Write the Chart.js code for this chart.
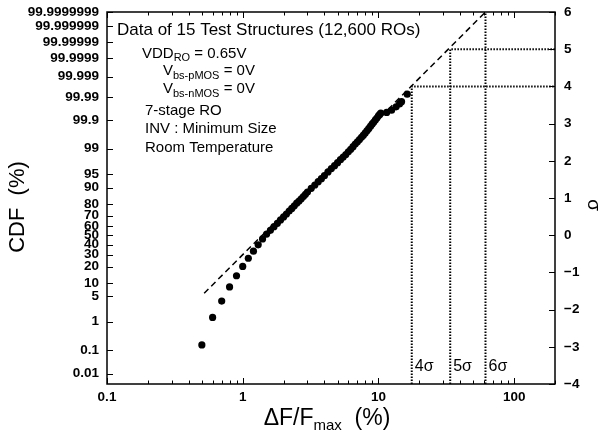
<!DOCTYPE html>
<html>
<head>
<meta charset="utf-8">
<script src="https://cdn.jsdelivr.net/npm/chart.js@4.4.1/dist/chart.umd.min.js"></script>
<style>
  body { margin: 0; background: #fff; }
  #wrap { width: 600px; height: 441px; }
</style>
</head>
<body>
<div id="wrap"><canvas id="cdfChart" width="600" height="441"></canvas></div>
<script>
// frequency shift bins (%) and their probit (sigma) values
const xBins = [0.5, 0.6, 0.7, 0.8, 0.9, 1.0, 1.1, 1.2, 1.3, 1.4, 1.5, 1.6, 1.7, 1.8, 1.9,
  2.0, 2.1, 2.2, 2.3, 2.4, 2.5, 2.6, 2.7, 2.8, 2.9, 3.0, 3.2, 3.4, 3.6, 3.8, 4.0,
  4.25, 4.5, 4.75, 5.0, 5.25, 5.5, 5.75, 6.0, 6.25, 6.5, 6.75, 7.0, 7.25, 7.5, 7.75,
  8.0, 8.25, 8.5, 8.75, 9.0, 9.25, 9.5, 9.75, 10.0, 10.2, 10.4, 11.5, 12.5, 13.5,
  14.3, 14.8, 16.3];
const sigmaVals = [-2.95, -2.21, -1.77, -1.39, -1.09, -0.84, -0.62, -0.43, -0.26, -0.10, 0.03, 0.13, 0.23, 0.32, 0.41,
  0.49, 0.57, 0.65, 0.72, 0.79, 0.86, 0.92, 0.98, 1.04, 1.10, 1.16, 1.26, 1.35, 1.44, 1.52, 1.60,
  1.70, 1.79, 1.87, 1.95, 2.03, 2.10, 2.17, 2.24, 2.31, 2.38, 2.45, 2.51, 2.57, 2.63, 2.69,
  2.75, 2.81, 2.87, 2.93, 2.99, 3.04, 3.10, 3.15, 3.21, 3.24, 3.28, 3.30, 3.36, 3.45,
  3.53, 3.59, 3.79];

// fitted (dashed) line end points
const fitX = [0.52, 61.5];
const fitSigma = [-1.56, 6];

// 4/5/6 sigma reference lines
const sigmaLevels = [4, 5, 6];
const sigmaX = [17.6, 33.8, 61.5];

// left axis: CDF labels and their sigma positions
const cdfTickLabels = ["99.9999999", "99.999999", "99.99999", "99.9999", "99.999", "99.99", "99.9",
  "99", "95", "90", "80", "70", "60", "50", "40", "30", "20", "10", "5", "1", "0.1", "0.01"];
const cdfTickZ = [5.998, 5.612, 5.199, 4.753, 4.265, 3.719, 3.090,
  2.326, 1.645, 1.282, 0.842, 0.524, 0.253, 0, -0.253, -0.524, -0.842, -1.282, -1.645, -2.326, -3.090, -3.719];

const xDecades = [0.1, 1, 10, 100];
const xTickLabels = ["0.1", "1", "10", "100"];

const xMax = 200;
const xTicks = [];
xDecades.forEach((d) => {
  for (let m = 1; m <= 9; m++) {
    if (d * m <= xMax) xTicks.push({ value: d * m, major: m === 1 });
  }
});

const tickFont = { family: "'Liberation Sans', Arial, sans-serif", size: 13.5, weight: "bold" };
const noGrid = { display: false, drawTicks: false };

function drawParts(ctx, parts, x, y) {
  parts.forEach((p) => {
    ctx.font = p[1];
    ctx.fillText(p[0], x, y + (p[2] || 0));
    x += ctx.measureText(p[0]).width;
  });
}

const decor = {
  id: "decor",
  afterDraw(chart) {
    const { ctx, chartArea: a, scales } = chart;
    const xs = scales.x, yl = scales.yL, yr = scales.y;
    ctx.save();
    ctx.strokeStyle = "#000";
    ctx.fillStyle = "#000";

    // frame
    ctx.lineWidth = 1.5;
    ctx.strokeRect(a.left, a.top, a.right - a.left, a.bottom - a.top);

    // inward ticks
    ctx.lineWidth = 1;
    ctx.beginPath();
    xTicks.forEach((t) => {
      const px = Math.round(xs.getPixelForValue(t.value)) + 0.5;
      const len = t.major ? 6 : 3.5;
      ctx.moveTo(px, a.bottom);
      ctx.lineTo(px, a.bottom - len);
      ctx.moveTo(px, a.top);
      ctx.lineTo(px, a.top + len);
    });
    cdfTickZ.forEach((z) => {
      const py = Math.round(yl.getPixelForValue(z)) + 0.5;
      ctx.moveTo(a.left, py);
      ctx.lineTo(a.left + 6, py);
    });
    yr.ticks.forEach((t) => {
      const py = Math.round(yr.getPixelForValue(t.value)) + 0.5;
      ctx.moveTo(a.right, py);
      ctx.lineTo(a.right - 6, py);
    });
    ctx.stroke();

    // sigma labels near the reference lines
    ctx.font = "16px 'Liberation Sans', Arial, sans-serif";
    ctx.textBaseline = "alphabetic";
    sigmaLevels.forEach((s, i) => {
      const px = xs.getPixelForValue(sigmaX[i]) + 3;
      const py = yr.getPixelForValue(-3.65);
      ctx.fillText(s + "σ", px, py);
    });

    // condition notes
    const f = "'Liberation Sans', Arial, sans-serif";
    const big = "17px " + f, med = "15px " + f, sub = "11px " + f;
    drawParts(ctx, [["Data of 15 Test Structures (12,600 ROs)", big]], a.left + 10, 35);
    drawParts(ctx, [["VDD", med], ["RO", sub, 3], [" = 0.65V", med]], a.left + 35, 58);
    drawParts(ctx, [["V", med], ["bs-pMOS", sub, 4], [" = 0V", med]], a.left + 56, 75);
    drawParts(ctx, [["V", med], ["bs-nMOS", sub, 4], [" = 0V", med]], a.left + 56, 93);
    drawParts(ctx, [["7-stage RO", med]], a.left + 38, 115);
    drawParts(ctx, [["INV : Minimum Size", med]], a.left + 38, 133);
    drawParts(ctx, [["Room Temperature", med]], a.left + 38, 152);

    // axis titles
    ctx.save();
    ctx.translate(18, 207);
    ctx.rotate(-Math.PI / 2);
    ctx.textAlign = "center";
    ctx.textBaseline = "middle";
    ctx.font = "22px " + f;
    ctx.fillText("CDF  (%)", 0, 0);
    ctx.restore();

    ctx.save();
    ctx.translate(593, 205);
    ctx.rotate(Math.PI / 2);
    ctx.textAlign = "center";
    ctx.textBaseline = "middle";
    ctx.font = "19px " + f;
    ctx.fillText("σ", 0, 0);
    ctx.restore();

    const xt = [["ΔF/F", "23px " + f], ["max", "15px " + f, 5], ["  (%)", "23px " + f]];
    let w = 0;
    xt.forEach((p) => { ctx.font = p[1]; w += ctx.measureText(p[0]).width; });
    drawParts(ctx, xt, 327 - w / 2, 425);

    ctx.restore();
  },
};

const cdfCtx = document.getElementById("cdfChart").getContext("2d");
new Chart(cdfCtx, {
  type: "scatter",
  data: {
    datasets: [
      {
        label: "fit",
        data: fitX.map((v, i) => ({ x: v, y: fitSigma[i] })),
        showLine: true,
        borderColor: "#000",
        borderWidth: 1.5,
        borderDash: [6, 4],
        pointRadius: 0,
        yAxisID: "y",
      },
      ...sigmaLevels.map((s, i) => ({
        label: s + "sigma",
        data: s < 6
          ? [{ x: sigmaX[i], y: -4 }, { x: sigmaX[i], y: s }, { x: xMax, y: s }]
          : [{ x: sigmaX[i], y: -4 }, { x: sigmaX[i], y: s }],
        showLine: true,
        borderColor: "#000",
        borderWidth: 2,
        borderDash: [1.5, 1.5],
        pointRadius: 0,
        yAxisID: "y",
      })),
      {
        label: "RO data",
        data: xBins.map((v, i) => ({ x: v, y: sigmaVals[i] })),
        backgroundColor: "#000",
        borderColor: "#000",
        pointRadius: 3.6,
        pointBorderWidth: 0,
        yAxisID: "y",
      },
    ],
  },
  options: {
    responsive: false,
    animation: false,
    layout: { padding: { top: 12, left: 0, right: 0, bottom: 0 } },
    plugins: {
      legend: { display: false },
      tooltip: { enabled: false },
    },
    scales: {
      x: {
        type: "logarithmic",
        min: 0.1,
        max: xMax,
        grid: noGrid,
        border: { display: false },
        afterBuildTicks: (s) => { s.ticks = xTicks.map((t) => ({ value: t.value })); },
        afterFit: (s) => { s.height = 57; s.paddingLeft = 0; s.paddingRight = 0; },
        ticks: {
          autoSkip: false,
          maxRotation: 0,
          padding: 5,
          color: "#000",
          font: tickFont,
          callback: (v) => {
            const k = xDecades.findIndex((d) => Math.abs(d - v) < 1e-9);
            return k >= 0 ? xTickLabels[k] : "";
          },
        },
      },
      yL: {
        type: "linear",
        position: "left",
        min: -4,
        max: 6,
        grid: noGrid,
        border: { display: false },
        afterBuildTicks: (s) => { s.ticks = cdfTickZ.map((z) => ({ value: z })); },
        afterFit: (s) => { s.width = 107; s.paddingTop = 0; s.paddingBottom = 0; },
        ticks: {
          autoSkip: false,
          padding: 8,
          color: "#000",
          font: tickFont,
          callback: (v, i) => cdfTickLabels[i],
        },
      },
      y: {
        type: "linear",
        position: "right",
        min: -4,
        max: 6,
        grid: noGrid,
        border: { display: false },
        afterFit: (s) => { s.width = 45; s.paddingTop = 0; s.paddingBottom = 0; },
        ticks: {
          stepSize: 1,
          padding: 9,
          color: "#000",
          font: tickFont,
          callback: (v) => String(v).replace("-", "\u2212"),
        },
      },
    },
  },
  plugins: [decor],
});
</script>
</body>
</html>
